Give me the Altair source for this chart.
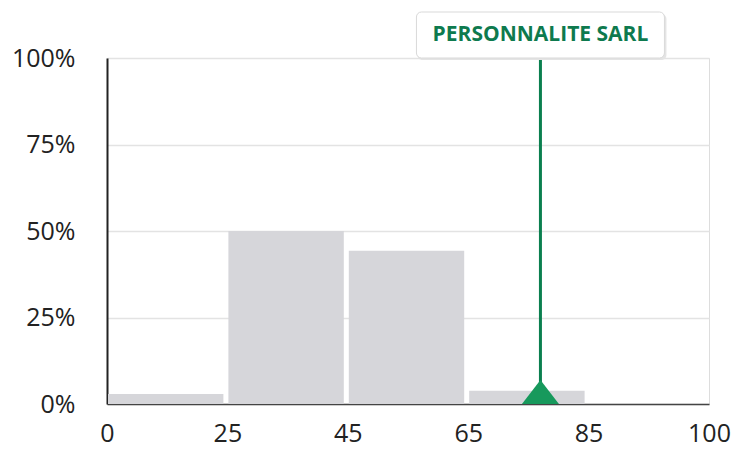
import altair as alt
import pandas as pd

# Data
bin_lo = [0, 25, 45, 65, 85]
bin_hi = [25, 45, 65, 85, 100]
shares = [0.029, 0.50, 0.443, 0.038, 0.0]
tick_values = [0, 25, 45, 65, 85, 100]
company = "PERSONNALITE SARL"
company_score = 77

W, H = 602, 346
bars_df = pd.DataFrame({"lo": bin_lo, "hi": bin_hi, "share": shares})
mark_df = pd.DataFrame({"score": [company_score], "y0": [0.0], "y1": [1.0], "label": [company]})

xscale = alt.Scale(domain=tick_values, range=[i * W / 5 for i in range(6)], nice=False)
yscale = alt.Scale(domain=[0, 1], nice=False)

FONT = "Open Sans"

bars = alt.Chart(bars_df).mark_bar(color="#d6d6da", xOffset=1, x2Offset=-4).encode(
    x=alt.X("lo:Q", scale=xscale, axis=alt.Axis(
        values=tick_values, title=None, grid=False, ticks=False,
        domainColor="#444444", domainWidth=1.5, labelFontSize=25, labelFont=FONT,
        labelColor="#222222", labelPadding=17, labelFlush=False)),
    x2="hi:Q",
    y=alt.Y("share:Q", scale=yscale, axis=alt.Axis(
        values=[0, 0.25, 0.5, 0.75, 1.0], format=".0%", title=None, ticks=False,
        domainColor="#222222", domainWidth=2, gridColor="#e3e3e3", gridWidth=1.5,
        labelFontSize=25, labelFont=FONT, labelColor="#222222", labelPadding=32)),
    y2=alt.datum(0),
)

rule = alt.Chart(mark_df).mark_rule(color="#0b7f4f", strokeWidth=3).encode(
    x=alt.X("score:Q", scale=xscale),
    y=alt.Y("y0:Q", scale=yscale),
    y2="y1:Q",
)

tri = alt.Chart(mark_df).mark_point(
    shape="M-1,0.65L1,0.65L0,-0.65Z", size=1369, filled=True, opacity=1,
    color="#17995c", yOffset=-12).encode(
    x=alt.X("score:Q", scale=xscale),
    y=alt.Y("y0:Q", scale=yscale),
)

shadow = alt.Chart(mark_df).mark_rect(
    fill="#e4e4e4", cornerRadius=5, xOffset=-123, x2Offset=126, yOffset=-44, y2Offset=2).encode(
    x=alt.X("score:Q", scale=xscale), x2="score:Q",
    y=alt.Y("y1:Q", scale=yscale), y2="y1:Q",
)

box = alt.Chart(mark_df).mark_rect(
    fill="white", stroke="#d9d9d9", strokeWidth=1, cornerRadius=5,
    xOffset=-124, x2Offset=124, yOffset=-46, y2Offset=0).encode(
    x=alt.X("score:Q", scale=xscale), x2="score:Q",
    y=alt.Y("y1:Q", scale=yscale), y2="y1:Q",
)

text = alt.Chart(mark_df).mark_text(
    font=FONT, fontSize=21, fontWeight="bold", color="#0e7a4e",
    align="center", baseline="middle", yOffset=-23).encode(
    x=alt.X("score:Q", scale=xscale),
    y=alt.Y("y1:Q", scale=yscale),
    text="label:N",
)

chart = alt.layer(bars, rule, tri, shadow, box, text).properties(
    width=W, height=H,
    autosize=alt.AutoSizeParams(type="none"),
    padding={"left": 99, "top": 50, "right": 23, "bottom": 49},
).configure_view(stroke=None).configure(background="white")

chart.save("out.html", embed_options={"renderer": "svg", "actions": False})
